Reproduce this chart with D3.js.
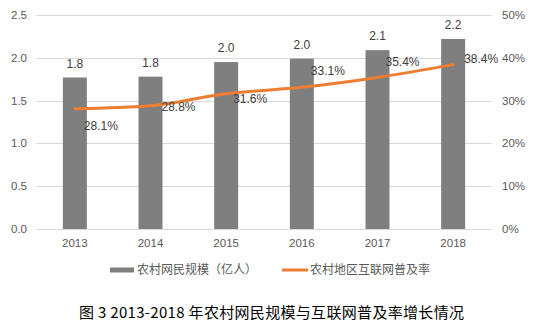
<!DOCTYPE html>
<html><head><meta charset="utf-8">
<script src="https://cdnjs.cloudflare.com/ajax/libs/d3/7.8.5/d3.min.js"></script>
<style>
body{margin:0;background:#fff;}
svg{display:block;font-family:"Liberation Sans","Noto Sans CJK SC",sans-serif;}
</style></head>
<body><svg id="c" width="537" height="331"></svg>
<script>
const years = ["2013","2014","2015","2016","2017","2018"];
const users = [1.77, 1.78, 1.95, 1.99, 2.09, 2.22];
const userLabels = ["1.8","1.8","2.0","2.0","2.1","2.2"];
const rate = [28.1, 28.8, 31.6, 33.1, 35.4, 38.4];
const leftTicks = [0, 0.5, 1.0, 1.5, 2.0, 2.5];
const rightTicks = [0, 10, 20, 30, 40, 50];
const seriesNames = ["农村网民规模（亿人）", "农村地区互联网普及率"];
const title = "图 3 2013-2018 年农村网民规模与互联网普及率增长情况";
// label offsets (style) for the rate labels
const rateLabelDX = [9, 11, 7, 9, 8, 11];
const rateLabelDY = [17, 1, 5, -17, -16, -6];

const svg = d3.select("#c");
const plotL = 37, plotR = 491, plotT = 15, plotB = 229;

const x = d3.scaleBand().domain(years).range([plotL, plotR]).paddingInner(0.683).paddingOuter(0.3415);
const yL = d3.scaleLinear().domain([0, 2.5]).range([plotB, plotT]);
const yR = d3.scaleLinear().domain([0, 50]).range([plotB, plotT]);

// gridlines
svg.append("g").selectAll("line").data(leftTicks).join("line")
  .attr("x1", plotL - 1).attr("x2", plotR + 1)
  .attr("y1", d => Math.round(yL(d)) + 0.5).attr("y2", d => Math.round(yL(d)) + 0.5)
  .attr("stroke", "#d9d9d9").attr("stroke-width", 1);

// left axis labels
svg.append("g").selectAll("text").data(leftTicks).join("text")
  .attr("x", 27).attr("y", d => yL(d)).attr("dy", "0.35em")
  .attr("text-anchor", "end").attr("font-size", 11.5).attr("fill", "#595959")
  .text(d => d3.format(".1f")(d));

// right axis labels
svg.append("g").selectAll("text").data(rightTicks).join("text")
  .attr("x", 502).attr("y", d => yR(d)).attr("dy", "0.35em")
  .attr("text-anchor", "start").attr("font-size", 11.5).attr("fill", "#595959")
  .text(d => d + "%");

// x labels
svg.append("g").selectAll("text").data(years).join("text")
  .attr("x", d => x(d) + x.bandwidth() / 2).attr("y", 243).attr("dy", "0.35em")
  .attr("text-anchor", "middle").attr("font-size", 11.5).attr("fill", "#595959")
  .text(d => d);

// bars
svg.append("g").selectAll("rect").data(years).join("rect")
  .attr("x", d => x(d)).attr("width", x.bandwidth())
  .attr("y", (d, i) => yL(users[i])).attr("height", (d, i) => yL(0) - yL(users[i]))
  .attr("fill", "#7f7f7f");

// bar labels
svg.append("g").selectAll("text").data(years).join("text")
  .attr("x", d => x(d) + x.bandwidth() / 2).attr("y", (d, i) => yL(users[i]) - 14).attr("dy", "0.35em")
  .attr("text-anchor", "middle").attr("font-size", 12).attr("fill", "#404040")
  .text((d, i) => userLabels[i]);

// line
const cx = d => x(d) + x.bandwidth() / 2;
const line = d3.line().x((d, i) => cx(years[i])).y(d => yR(d)).curve(d3.curveMonotoneX);
svg.append("path").datum(rate).attr("d", line)
  .attr("fill", "none").attr("stroke", "#ed7d31").attr("stroke-width", 3).attr("stroke-linecap", "round");

// rate labels
svg.append("g").selectAll("text").data(rate).join("text")
  .attr("x", (d, i) => cx(years[i]) + rateLabelDX[i]).attr("y", (d, i) => yR(d) + rateLabelDY[i]).attr("dy", "0.35em")
  .attr("text-anchor", "start").attr("font-size", 12).attr("fill", "#404040")
  .text(d => d.toFixed(1) + "%");

// legend
const lg = svg.append("g");
lg.append("rect").attr("x", 110).attr("y", 267.5).attr("width", 24).attr("height", 5).attr("fill", "#7f7f7f");
lg.append("text").attr("x", 137).attr("y", 270).attr("dy", "0.35em").attr("font-size", 12).attr("fill", "#595959")
  .attr("font-family", "Noto Sans CJK SC").text(seriesNames[0]);
lg.append("line").attr("x1", 282).attr("x2", 308).attr("y1", 270).attr("y2", 270)
  .attr("stroke", "#ed7d31").attr("stroke-width", 3);
lg.append("text").attr("x", 310).attr("y", 270).attr("dy", "0.35em").attr("font-size", 12).attr("fill", "#595959")
  .attr("font-family", "Noto Sans CJK SC").text(seriesNames[1]);

// title
svg.append("text").attr("x", 271.5).attr("y", 313).attr("dy", "0.35em").attr("text-anchor", "middle")
  .attr("font-size", 15).attr("fill", "#000").attr("font-family", "Noto Sans CJK SC")
  .attr("textLength", 385).attr("lengthAdjust", "spacing").text(title);
</script>
</body></html>
